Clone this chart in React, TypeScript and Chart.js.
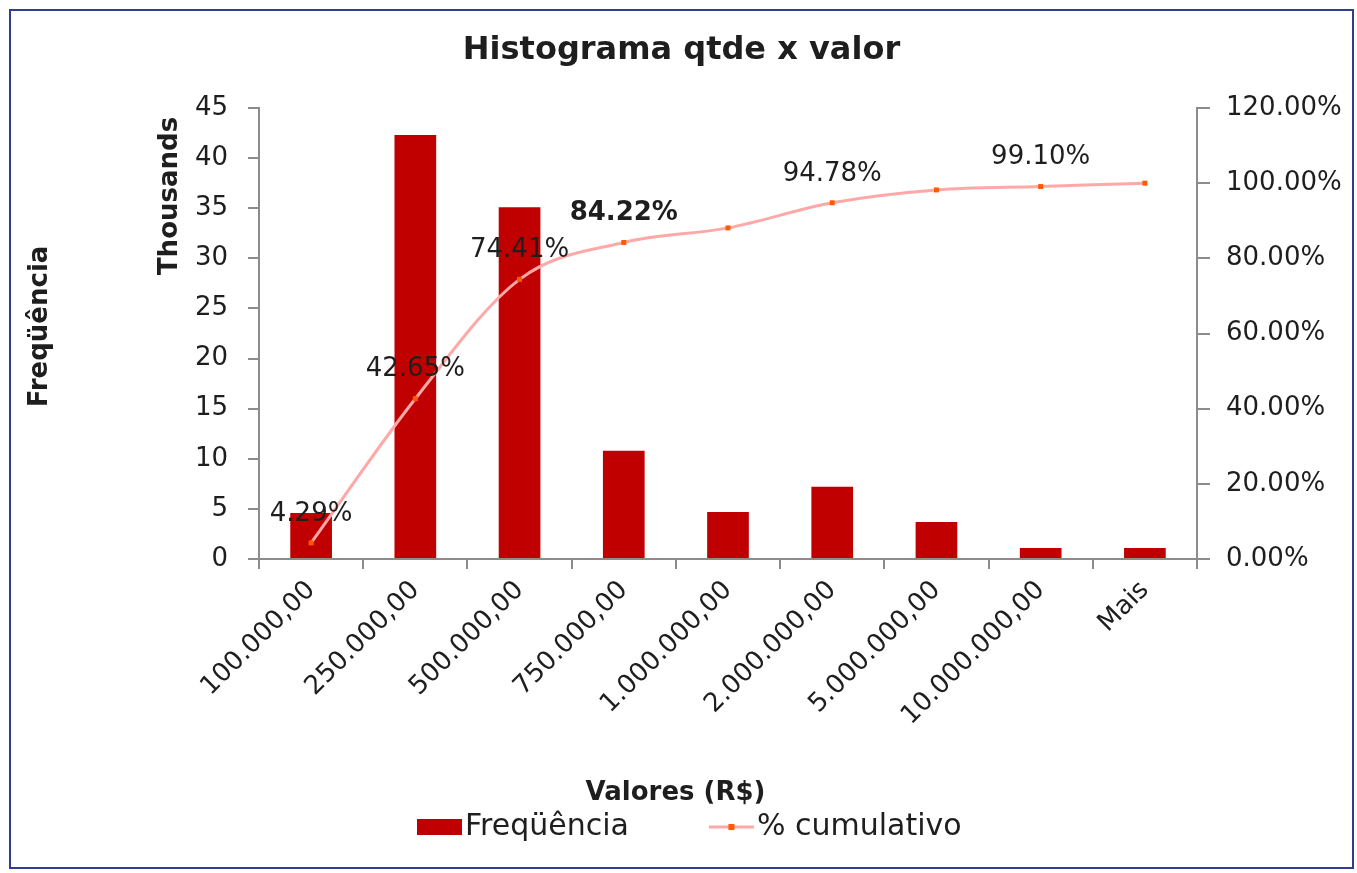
import React, { useEffect, useRef } from "react";
import { Chart, registerables } from "chart.js";

Chart.register(...registerables);

const categories = [
  "100.000,00",
  "250.000,00",
  "500.000,00",
  "750.000,00",
  "1.000.000,00",
  "2.000.000,00",
  "5.000.000,00",
  "10.000.000,00",
  "Mais",
];
const frequencyThousands = [4.6, 42.3, 35.1, 10.8, 4.7, 7.2, 3.7, 1.1, 1.1];
const cumulativePercent = [4.29, 42.65, 74.41, 84.22, 88.1, 94.78, 98.2, 99.1, 100.0];
const cumulativeLabelShown = [true, true, true, true, false, true, false, true, false];
const cumulativeLabelBold = [false, false, false, true, false, false, false, false, false];

const titleText = "Histograma qtde x valor";
const yTitleText = "Freqüência";
const yUnitText = "Thousands";
const xTitleText = "Valores (R$)";
const barLabel = "Freqüência";
const lineLabel = "% cumulativo";

const leftMax = 45;
const leftStep = 5;
const rightMax = 120;
const rightStep = 20;

const FONT = "'DejaVu Sans', sans-serif";
const TEXT = "#1e1e1e";
const AXIS = "#8c8c8c";
const BAR = "#C00000";
const LINE = "#FFA8A8";
const MARK = "#FF5A00";

const extraText = {
  id: "extraText",
  afterDraw(chart: any) {
    const ctx = chart.ctx;
    const a = chart.chartArea;
    ctx.save();
    ctx.fillStyle = TEXT;
    ctx.textAlign = "center";
    ctx.textBaseline = "middle";
    // y axis title
    ctx.font = `bold 26px ${FONT}`;
    ctx.save();
    ctx.translate(a.left - 219, (a.top + a.bottom) / 2 - 7);
    ctx.rotate(-Math.PI / 2);
    ctx.fillText(yTitleText, 0, 0);
    ctx.restore();
    // display unit
    ctx.save();
    ctx.translate(a.left - 89, a.top + 88);
    ctx.rotate(-Math.PI / 2);
    ctx.fillText(yUnitText, 0, 0);
    ctx.restore();
    // x title
    ctx.fillText(xTitleText, chart.width / 2 - 6, 782);

    // legend
    const ds = chart.data.datasets;
    ctx.font = `30px ${FONT}`;
    const boxW = 45;
    const gapText = 3;
    const gapItem = 80;
    const w0 = boxW + gapText + ctx.measureText(ds[0].label).width;
    let x = a.left + 158;
    const y = 816;
    ctx.fillStyle = ds[0].backgroundColor;
    ctx.fillRect(x, y - 8, boxW, 16);
    ctx.fillStyle = TEXT;
    ctx.textAlign = "left";
    ctx.fillText(ds[0].label, x + boxW + gapText, y);
    x += w0 + gapItem;
    ctx.strokeStyle = ds[1].borderColor;
    ctx.lineWidth = 3;
    ctx.beginPath();
    ctx.moveTo(x, y);
    ctx.lineTo(x + boxW, y);
    ctx.stroke();
    ctx.fillStyle = MARK;
    ctx.fillRect(x + boxW / 2 - 3, y - 3, 6, 6);
    ctx.fillStyle = TEXT;
    ctx.fillText(ds[1].label, x + boxW + gapText, y);
    ctx.restore();
  },
};

const cumLabels = {
  id: "cumLabels",
  afterDatasetsDraw(chart: any) {
    const ctx = chart.ctx;
    const idx = chart.data.datasets.findIndex((d: any) => d.type === "line");
    const meta = chart.getDatasetMeta(idx);
    ctx.save();
    ctx.fillStyle = TEXT;
    ctx.textAlign = "center";
    ctx.textBaseline = "middle";
    meta.data.forEach((pt: any, i: number) => {
      if (!cumulativeLabelShown[i]) return;
      ctx.font = `${cumulativeLabelBold[i] ? "bold " : ""}26px ${FONT}`;
      ctx.fillText(cumulativePercent[i].toFixed(2) + "%", pt.x, pt.y - 29);
    });
    ctx.restore();
  },
};

export default function App() {
  const ref = useRef<HTMLCanvasElement>(null);
  useEffect(() => {
    if (!ref.current) return;
    const chart = new Chart(ref.current, {
      type: "bar",
      data: {
        labels: categories,
        datasets: [
          {
            type: "bar",
            label: barLabel,
            data: frequencyThousands,
            backgroundColor: BAR,
            barPercentage: 0.4,
            categoryPercentage: 1.0,
            yAxisID: "y",
            order: 1,
          },
          {
            type: "line",
            label: lineLabel,
            data: cumulativePercent,
            borderColor: LINE,
            borderWidth: 3,
            pointStyle: "rect",
            pointRadius: 3.5,
            pointBackgroundColor: MARK,
            pointBorderColor: MARK,
            pointBorderWidth: 0,
            cubicInterpolationMode: "monotone",
            yAxisID: "y1",
            order: 0,
          } as any,
        ],
      },
      options: {
        responsive: false,
        animation: false,
        layout: { padding: { top: 0, left: 0, right: 0, bottom: 78 } },
        plugins: {
          legend: { display: false },
          tooltip: { enabled: false },
          title: {
            display: true,
            text: titleText,
            color: TEXT,
            font: { family: FONT, size: 32, weight: "bold" },
            padding: { top: 20, bottom: 38.6 },
          },
        },
        scales: {
          x: {
            type: "category",
            offset: true,
            grid: {
              display: true,
              offset: true,
              drawOnChartArea: false,
              drawTicks: true,
              tickLength: 10,
              color: AXIS,
              lineWidth: 2,
            },
            border: { display: true, color: AXIS, width: 2 },
            ticks: {
              autoSkip: false,
              minRotation: 45,
              maxRotation: 45,
              padding: 6,
              color: TEXT,
              font: { family: FONT, size: 26 },
            },
            afterFit: (s: any) => {
              s.height = 230;
            },
          },
          y: {
            position: "left",
            min: 0,
            max: leftMax,
            grid: {
              drawOnChartArea: false,
              drawTicks: true,
              tickLength: 11,
              color: AXIS,
              lineWidth: 2,
            },
            border: { display: true, color: AXIS, width: 2 },
            ticks: {
              stepSize: leftStep,
              padding: 20,
              color: TEXT,
              font: { family: FONT, size: 26 },
            },
            afterFit: (s: any) => {
              s.width = 248;
            },
          },
          y1: {
            position: "right",
            min: 0,
            max: rightMax,
            grid: {
              drawOnChartArea: false,
              drawTicks: true,
              tickLength: 13,
              color: AXIS,
              lineWidth: 2,
            },
            border: { display: true, color: AXIS, width: 2 },
            ticks: {
              stepSize: rightStep,
              padding: 16,
              color: TEXT,
              font: { family: FONT, size: 26 },
              callback: (v: any) => Number(v).toFixed(2) + "%",
            },
            afterFit: (s: any) => {
              s.width = 155;
            },
          },
        },
      } as any,
      plugins: [cumLabels, extraText],
    });
    return () => chart.destroy();
  }, []);

  return (
    <div
      style={{
        position: "fixed",
        left: 9,
        top: 9,
        width: 1345,
        height: 860,
        border: "2px solid #2E3D8F",
        boxSizing: "border-box",
        background: "#fff",
      }}
    >
      <canvas
        ref={ref}
        width={1341}
        height={856}
        style={{ display: "block", width: 1341, height: 856 }}
      />
    </div>
  );
}
